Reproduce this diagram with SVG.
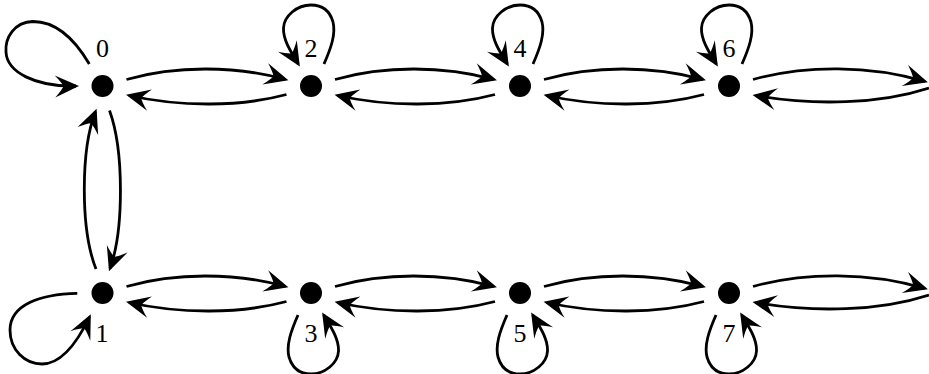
<svg xmlns="http://www.w3.org/2000/svg" width="929" height="374" viewBox="0 0 929 374">
<style>
.e{fill:none;stroke:#000;stroke-width:2.8;marker-end:url(#ah)}
.d{fill:#000}
.l{font-family:"Liberation Serif","Times New Roman",serif;font-size:26px;fill:#000;text-anchor:middle}
</style>
<defs>
<marker id="ah" markerUnits="userSpaceOnUse" markerWidth="40" markerHeight="30" viewBox="-26 -15 40 30" refX="0" refY="0" orient="auto" overflow="visible">
<path d="M3,0 L-21,-11 Q-14,-3.5 -12.5,0 Q-14,3.5 -21,11 Z" fill="#000"/>
</marker>
<path id="lt" d="M13,-22 C20,-38 25,-52 22,-64 C18,-78 8,-81 0,-81 C-14,-81 -27,-70 -27.5,-58 C-28,-46 -20,-34 -12.7,-22"/>
<path id="lb" d="M-13,22 C-20,38 -25,52 -22,64 C-18,78 -8,81 0,81 C14,81 27,70 27.5,58 C28,46 20,34 12.7,22"/>
</defs>
<g id="connectors">
<path class="e" d="M89.3,64 C74,38 55,21.5 33,21.5 C14,22 5,38 6,52 C7,72 35,87 76,86"/>
<path class="e" d="M77.3,293.3 C40,294 10,305 10,330 C10,350 25,364 42,364 C60,364 76,345 89.5,317"/>
<path class="e" d="M96,269 C80.5,230 80.5,150 95.5,111.5"/>
<path class="e" d="M109.5,110.5 C124,150 124,230 110,268.5"/>
<path class="e" d="M126.5,79.5 C175,65.5 235,65.5 285.5,79.5"/>
<path class="e" d="M286.5,94.5 C240,107 180,107 129,95.5"/>
<path class="e" d="M335,79.5 C383.5,65.5 443.5,65.5 494,79.5"/>
<path class="e" d="M495,94.5 C448.5,107 388.5,107 337.5,95.5"/>
<path class="e" d="M544,79.5 C592.5,65.5 652.5,65.5 703,79.5"/>
<path class="e" d="M704,94.5 C657.5,107 597.5,107 546.5,95.5"/>
<path class="e" d="M753,79.5 C805,65 870,65 925,81.5"/>
<path class="e" d="M929,88 C880,104 815,106 755.5,95.5"/>
<path class="e" d="M126.5,286.5 C175,272.5 235,272.5 285.5,286.5"/>
<path class="e" d="M286.5,301.5 C240,314 180,314 129,302.5"/>
<path class="e" d="M335,286.5 C383.5,272.5 443.5,272.5 494,286.5"/>
<path class="e" d="M495,301.5 C448.5,314 388.5,314 337.5,302.5"/>
<path class="e" d="M544,286.5 C592.5,272.5 652.5,272.5 703,286.5"/>
<path class="e" d="M704,301.5 C657.5,314 597.5,314 546.5,302.5"/>
<path class="e" d="M753,286.5 C805,272 870,272 925,288.5"/>
<path class="e" d="M929,295 C880,311 815,313 755.5,302.5"/>
<use href="#lt" class="e" transform="translate(311,86)"/>
<use href="#lt" class="e" transform="translate(520,86)"/>
<use href="#lt" class="e" transform="translate(729,86)"/>
<use href="#lb" class="e" transform="translate(311,293)"/>
<use href="#lb" class="e" transform="translate(520,293)"/>
<use href="#lb" class="e" transform="translate(729,293)"/>
</g>
<g id="n0"><circle class="d" cx="102.5" cy="86" r="11"/><text class="l" x="102.5" y="57">0</text></g>
<g id="n1"><circle class="d" cx="102.5" cy="293" r="11"/><text class="l" x="102" y="342">1</text></g>
<g id="n2"><circle class="d" cx="311" cy="86" r="11"/><text class="l" x="311" y="57">2</text></g>
<g id="n3"><circle class="d" cx="311" cy="293" r="11"/><text class="l" x="311" y="342">3</text></g>
<g id="n4"><circle class="d" cx="520" cy="86" r="11"/><text class="l" x="520" y="57">4</text></g>
<g id="n5"><circle class="d" cx="520" cy="293" r="11"/><text class="l" x="520" y="342">5</text></g>
<g id="n6"><circle class="d" cx="729" cy="86" r="11"/><text class="l" x="729" y="57">6</text></g>
<g id="n7"><circle class="d" cx="729" cy="293" r="11"/><text class="l" x="729" y="342">7</text></g>
</svg>
